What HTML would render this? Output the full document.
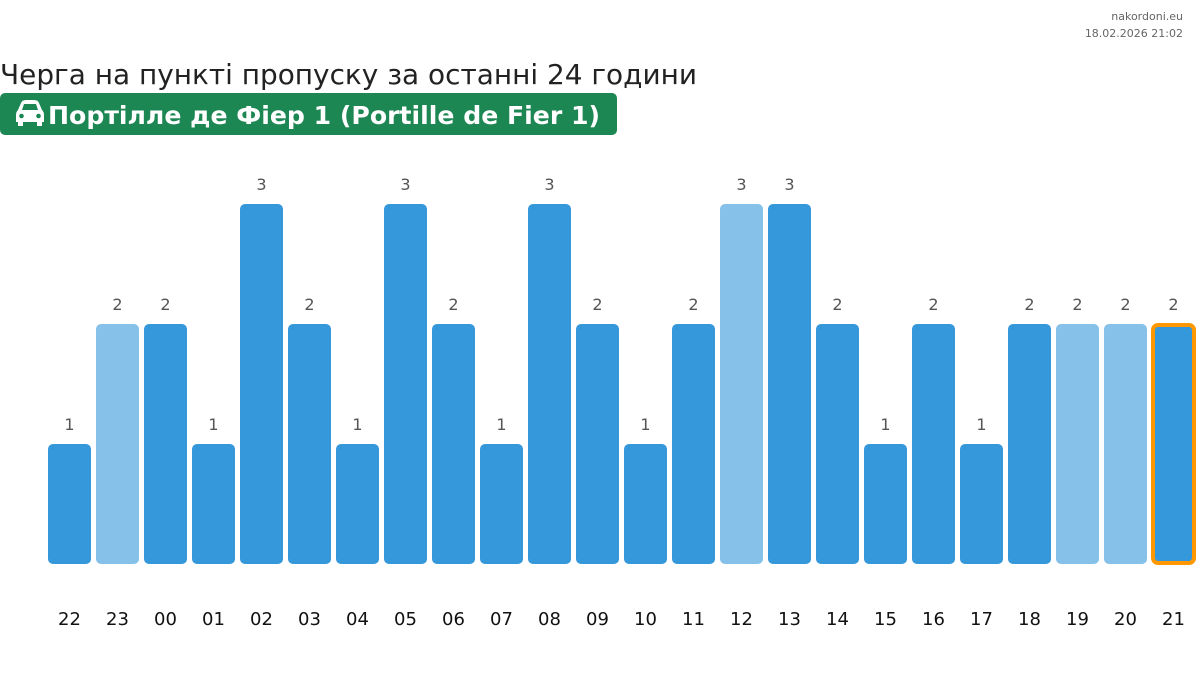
<!DOCTYPE html>
<html><head><meta charset="utf-8"><style>
html,body{margin:0;padding:0;background:#fff;}
svg{display:block;font-family:"DejaVu Sans","Liberation Sans",sans-serif;}
</style></head><body>
<svg width="1200" height="684" xmlns="http://www.w3.org/2000/svg">
<text x="1183" y="20" font-size="11" fill="#666" text-anchor="end">nakordoni.eu</text>
<text x="1183" y="37" font-size="11" fill="#666" text-anchor="end">18.02.2026 21:02</text>
<text x="0" y="84" font-size="28" fill="#222" textLength="697" lengthAdjust="spacingAndGlyphs">Черга на пункті пропуску за останні 24 години</text>
<rect x="0" y="93" width="617" height="42" rx="5" fill="#1d8753"/>
<g fill="#fff">
<path d="M18 110 L21 103 Q22 100 26 100 L34 100 Q38 100 39 103 L42 110 Q44 112 44 115 L44 122 L42 122 L42 126 L37 126 L37 122 L23 122 L23 126 L18 126 L18 122 L16 122 L16 115 Q16 112 18 110 Z"/>
</g>
<g fill="#1d8753"><path d="M22 110 L24 104 L36 104 L38 110 Z"/><circle cx="21.5" cy="116" r="2.3"/><circle cx="38.5" cy="116" r="2.3"/></g>
<text x="48" y="124" font-size="25" font-weight="bold" fill="#fff" textLength="552" lengthAdjust="spacingAndGlyphs">Портілле де Фіер 1 (Portille de Fier 1)</text>
<g id="bars"></g>
</svg>
<script>
var v=[1,2,2,1,3,2,1,3,2,1,3,2,1,2,3,3,2,1,2,1,2,2,2,2];
var light={1:1,14:1,21:1,22:1};
var g=document.getElementById('bars'),s='';
for(var i=0;i<24;i++){
 var x=48+48*i,h=v[i]*120,y=564-h,cx=x+21.5;
 if(i==23){s+='<rect x="'+(x+1)+'" y="'+(y+1)+'" width="41" height="'+(h-2)+'" rx="5" fill="#3498db" stroke="#ff9800" stroke-width="4"/>';}
 else s+='<rect x="'+x+'" y="'+y+'" width="43" height="'+h+'" rx="5" fill="'+(light[i]?'#85c1e9':'#3498db')+'"/>';
 s+='<text x="'+cx+'" y="'+(y-14)+'" font-size="16" fill="#555" text-anchor="middle">'+v[i]+'</text>';
 var hr=(22+i)%24;
 s+='<text x="'+cx+'" y="625" font-size="18" fill="#111" text-anchor="middle">'+(hr<10?'0'+hr:hr)+'</text>';
}
g.innerHTML=s;
</script>
</body></html>
